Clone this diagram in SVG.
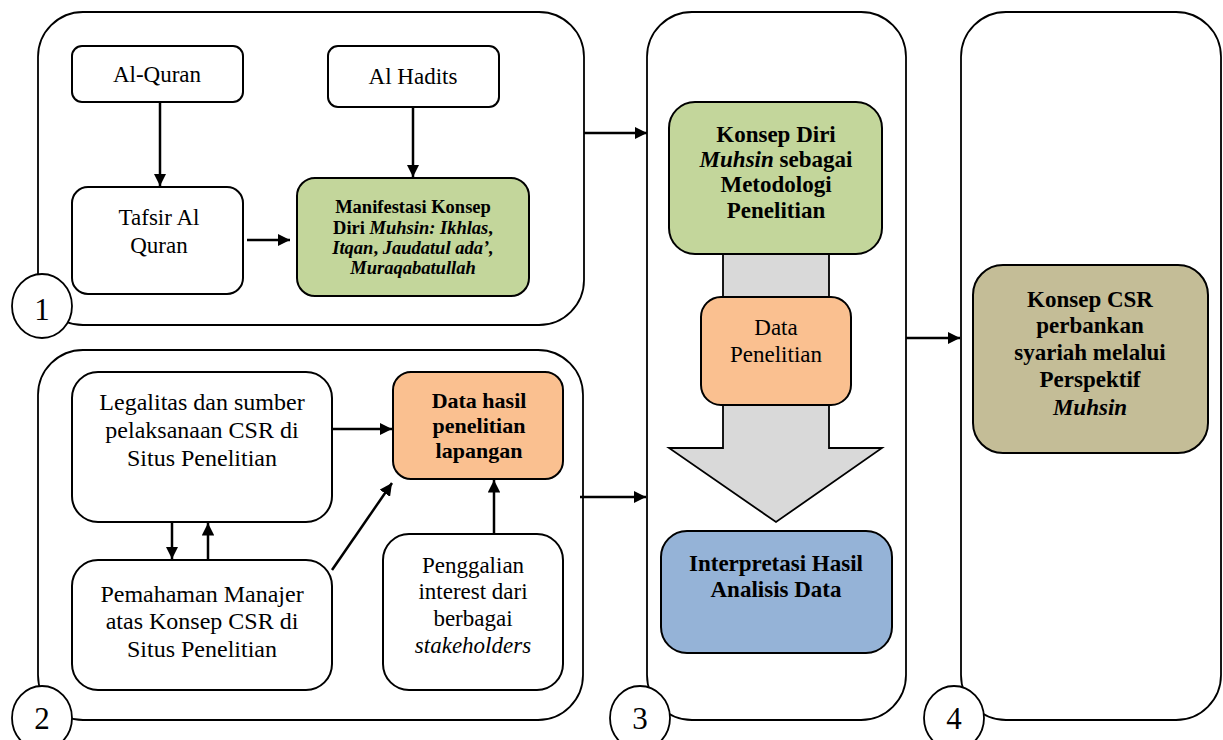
<svg xmlns="http://www.w3.org/2000/svg" width="1223" height="740" viewBox="0 0 1223 740">
<defs>
<marker id="ah" viewBox="0 0 10 10" refX="10" refY="5" markerWidth="5" markerHeight="5" markerUnits="strokeWidth" orient="auto">
<path d="M0,0 L10,5 L0,10 z" fill="#000"/>
</marker>
<style>
.panel{fill:#fff;stroke:#000;stroke-width:1.8}
.box{stroke:#000;stroke-width:2}
.w{fill:#fff}
.green{fill:#c3d69b}
.peach{fill:#fac090}
.blue{fill:#95b3d7}
.khaki{fill:#c4bd97}
.t{font-family:"Liberation Serif","Times New Roman",serif;font-size:23px;fill:#000;text-anchor:middle}
.big{font-size:24px}
.b{font-weight:bold}
.i{font-style:italic}
.num{font-family:"Liberation Serif","Times New Roman",serif;font-size:31px;fill:#000;text-anchor:middle}
.conn{stroke:#000;stroke-width:2.5;fill:none;marker-end:url(#ah)}
.circ{fill:#fff;stroke:#000;stroke-width:1.8}
</style>
</defs>
<rect width="1223" height="740" fill="#fff"/>

<g id="panel1">
<rect class="panel" x="38" y="12" width="546" height="313" rx="45"/>
<ellipse class="circ" cx="42" cy="306" rx="30" ry="32"/>
<text class="num" x="42" y="320">1</text>
</g>
<g id="panel2">
<rect class="panel" x="38" y="350" width="545" height="370" rx="45"/>
<ellipse class="circ" cx="42" cy="718" rx="30" ry="32"/>
<text class="num" x="42" y="729">2</text>
</g>
<g id="panel3">
<rect class="panel" x="647" y="12" width="259" height="708" rx="45"/>
<ellipse class="circ" cx="640" cy="718" rx="30" ry="32"/>
<text class="num" x="640" y="729">3</text>
</g>
<g id="panel4">
<rect class="panel" x="961" y="12" width="260" height="708" rx="45"/>
<ellipse class="circ" cx="954" cy="718" rx="30" ry="32"/>
<text class="num" x="954" y="729">4</text>
</g>

<g id="al-quran">
<rect class="box w" x="72" y="46" width="171" height="56" rx="10"/>
<text class="t" x="157" y="82">Al-Quran</text>
</g>
<g id="al-hadits">
<rect class="box w" x="328" y="46" width="171" height="61" rx="10"/>
<text class="t" x="413" y="84">Al Hadits</text>
</g>
<g id="tafsir">
<rect class="box w" x="72" y="187" width="171" height="107" rx="16"/>
<text class="t" x="159" y="225">Tafsir Al</text>
<text class="t" x="159" y="253">Quran</text>
</g>
<g id="manifestasi">
<rect class="box green" x="297" y="178" width="232" height="118" rx="18"/>
<text class="t b" style="font-size:18.5px" x="413" y="213">Manifestasi Konsep</text>
<text class="t b" style="font-size:18.5px" x="413" y="234">Diri <tspan class="i">Muhsin: Ikhlas</tspan>,</text>
<text class="t b i" style="font-size:18.5px" x="413" y="254"><tspan>Itqan</tspan><tspan font-style="normal">,</tspan> Jaudatul ada’,</text>
<text class="t b i" style="font-size:18.5px" x="413" y="274">Muraqabatullah</text>
</g>

<g id="legalitas">
<rect class="box w" x="72" y="372" width="260" height="150" rx="26"/>
<text class="t big" x="202" y="410">Legalitas dan sumber</text>
<text class="t big" x="202" y="438">pelaksanaan CSR di</text>
<text class="t big" x="202" y="466">Situs Penelitian</text>
</g>
<g id="data-hasil">
<rect class="box peach" x="393" y="372" width="170" height="107" rx="18"/>
<text class="t b" style="font-size:22px" x="479" y="408">Data hasil</text>
<text class="t b" style="font-size:22px" x="479" y="433">penelitian</text>
<text class="t b" style="font-size:22px" x="479" y="458">lapangan</text>
</g>
<g id="pemahaman">
<rect class="box w" x="72" y="560" width="260" height="130" rx="26"/>
<text class="t big" x="202" y="602">Pemahaman Manajer</text>
<text class="t big" x="202" y="629">atas Konsep CSR di</text>
<text class="t big" x="202" y="657">Situs Penelitian</text>
</g>
<g id="penggalian">
<rect class="box w" x="383" y="534" width="180" height="156" rx="26"/>
<text class="t" x="473" y="573">Penggalian</text>
<text class="t" x="473" y="599">interest dari</text>
<text class="t" x="473" y="626">berbagai</text>
<text class="t i" x="473" y="653">stakeholders</text>
</g>

<g id="big-arrow">
<path d="M723,250 L829,250 L829,448 L882,448 L776,522 L669,448 L723,448 Z" fill="#d9d9d9" stroke="#000" stroke-width="1.8"/>
</g>
<g id="konsep-diri">
<rect class="box green" x="669" y="102" width="213" height="152" rx="26"/>
<text class="t b" x="776" y="142">Konsep Diri</text>
<text class="t b" x="776" y="167"><tspan class="i">Muhsin</tspan> sebagai</text>
<text class="t b" x="776" y="192">Metodologi</text>
<text class="t b" x="776" y="218">Penelitian</text>
</g>
<g id="data-penelitian">
<rect class="box peach" x="701" y="297" width="150" height="108" rx="20"/>
<text class="t" x="776" y="335">Data</text>
<text class="t" x="776" y="362">Penelitian</text>
</g>
<g id="interpretasi">
<rect class="box blue" x="661" y="531" width="231" height="122" rx="26"/>
<text class="t b" x="776" y="571">Interpretasi Hasil</text>
<text class="t b" x="776" y="597">Analisis Data</text>
</g>
<g id="konsep-csr">
<rect class="box khaki" x="973" y="265" width="235" height="188" rx="30"/>
<text class="t b" x="1090" y="307">Konsep CSR</text>
<text class="t b" x="1090" y="333">perbankan</text>
<text class="t b" x="1090" y="360">syariah melalui</text>
<text class="t b" x="1090" y="387">Perspektif</text>
<text class="t b i" x="1090" y="415">Muhsin</text>
</g>

<g id="connectors">
<line class="conn" x1="160" y1="102" x2="160" y2="186"/>
<line class="conn" x1="413" y1="107" x2="413" y2="177"/>
<line class="conn" x1="247" y1="240" x2="290" y2="240"/>
<line class="conn" x1="584" y1="133" x2="647" y2="133"/>
<line class="conn" x1="580" y1="497" x2="646" y2="497"/>
<line class="conn" x1="906" y1="338" x2="960" y2="338"/>
<line class="conn" x1="332" y1="429" x2="392" y2="429"/>
<line class="conn" x1="172" y1="522" x2="172" y2="559"/>
<line class="conn" x1="208" y1="560" x2="208" y2="523"/>
<line class="conn" x1="332" y1="570" x2="392" y2="483"/>
<line class="conn" x1="494" y1="534" x2="494" y2="480"/>
</g>
</svg>
